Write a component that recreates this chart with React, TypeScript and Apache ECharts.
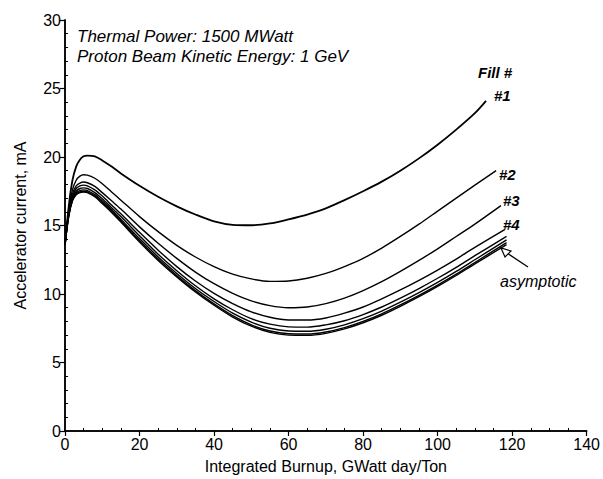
import React, { useEffect, useRef } from "react";
import * as echarts from "echarts";

// Burnup sample points (GWatt day/Ton) shared by all curves
const X_POINTS = [0, 1, 2, 3, 4, 5, 6, 8, 10, 12.5, 15, 20, 25, 30, 35, 40, 45, 50, 55, 60, 65, 70, 75, 80, 85, 90, 95, 100, 105, 110];

// Accelerator current (mA) for each fill at X_POINTS, plus each curve's end point [x, y]
const FILL1 = [13.6, 16.4, 18.3, 19.3, 19.8, 20.05, 20.1, 20.05, 19.75, 19.3, 18.8, 17.9, 17.1, 16.4, 15.8, 15.3, 15.05, 15.02, 15.15, 15.45, 15.8, 16.25, 16.85, 17.5, 18.2, 19.0, 19.9, 20.9, 22.0, 23.2];
const FILL1_END = [113, 24.1];
const FILL2 = [13.6, 16.1, 17.6, 18.3, 18.6, 18.7, 18.68, 18.45, 18.05, 17.45, 16.85, 15.65, 14.55, 13.55, 12.7, 12.0, 11.45, 11.1, 10.92, 10.95, 11.15, 11.5, 12.0, 12.6, 13.35, 14.2, 15.1, 16.05, 17.0, 17.95];
const FILL2_END = [115.7, 19.0];
const FILL3 = [13.6, 16.0, 17.3, 17.9, 18.1, 18.17, 18.12, 17.85, 17.4, 16.8, 16.2, 14.9, 13.7, 12.6, 11.6, 10.75, 10.05, 9.5, 9.15, 9.0, 9.05, 9.3, 9.7, 10.25, 10.9, 11.65, 12.45, 13.3, 14.2, 15.1];
const FILL3_END = [117, 16.45];
const FILL4 = [13.6, 15.9, 17.1, 17.7, 17.9, 17.95, 17.9, 17.6, 17.15, 16.5, 15.85, 14.5, 13.2, 12.0, 10.95, 10.05, 9.3, 8.7, 8.3, 8.1, 8.1, 8.25, 8.6, 9.05, 9.65, 10.3, 11.0, 11.75, 12.55, 13.4];
const FILL4_END = [118, 14.7];
const FILL5 = [13.6, 15.8, 17.0, 17.5, 17.7, 17.75, 17.7, 17.4, 16.95, 16.3, 15.65, 14.25, 12.9, 11.7, 10.6, 9.65, 8.85, 8.2, 7.8, 7.6, 7.58, 7.75, 8.05, 8.5, 9.05, 9.7, 10.4, 11.15, 11.95, 12.8];
const FILL5_END = [118.5, 14.2];
const FILL6 = [13.6, 15.75, 16.9, 17.4, 17.55, 17.6, 17.55, 17.25, 16.8, 16.15, 15.45, 14.05, 12.7, 11.5, 10.4, 9.45, 8.6, 7.95, 7.5, 7.3, 7.28, 7.43, 7.75, 8.2, 8.75, 9.4, 10.1, 10.85, 11.65, 12.5];
const FILL6_END = [118.5, 13.95];
const FILL7 = [13.6, 15.7, 16.85, 17.3, 17.45, 17.5, 17.45, 17.15, 16.7, 16.05, 15.35, 13.9, 12.55, 11.35, 10.25, 9.28, 8.42, 7.75, 7.3, 7.1, 7.08, 7.23, 7.55, 8.0, 8.55, 9.2, 9.9, 10.65, 11.45, 12.3];
const FILL7_END = [118.5, 13.75];
const ASYMPTOTIC = [13.6, 15.65, 16.8, 17.25, 17.4, 17.45, 17.4, 17.1, 16.6, 15.95, 15.25, 13.8, 12.45, 11.25, 10.15, 9.18, 8.32, 7.65, 7.2, 7.0, 6.98, 7.13, 7.45, 7.9, 8.45, 9.1, 9.8, 10.55, 11.35, 12.2];
const ASYMPTOTIC_END = [118.5, 13.6];

const SERIES_NAMES = ["#1", "#2", "#3", "#4", "#5", "#6", "#7", "asymptotic"];
const SERIES_VALUES = [FILL1, FILL2, FILL3, FILL4, FILL5, FILL6, FILL7, ASYMPTOTIC];
const SERIES_ENDS = [FILL1_END, FILL2_END, FILL3_END, FILL4_END, FILL5_END, FILL6_END, FILL7_END, ASYMPTOTIC_END];

const X_MIN = 0, X_MAX = 140, X_INTERVAL = 20;
const Y_MIN = 0, Y_MAX = 30, Y_INTERVAL = 5;

const TITLE_LINES = ["Thermal Power: 1500 MWatt", "Proton Beam Kinetic Energy: 1 GeV"];
const LEGEND_TITLE = "Fill #";
const X_NAME = "Integrated Burnup, GWatt day/Ton";
const Y_NAME = "Accelerator current, mA";

const FONT = "'Liberation Sans', Arial, Helvetica, sans-serif";

export default function App() {
  const ref = useRef<HTMLDivElement>(null);

  useEffect(() => {
    document.body.style.margin = "0";
    const el = ref.current;
    if (!el) return;
    const chart = echarts.init(el, undefined, { renderer: "svg" });
    const black = "#000";
    const axisLine = { show: true, lineStyle: { color: black, width: 1.5 } };

    const series = SERIES_VALUES.map((vals, i) => ({
      type: "line",
      name: SERIES_NAMES[i],
      xAxisIndex: 0,
      yAxisIndex: 0,
      data: X_POINTS.map((x, j) => [x, vals[j]]).concat([SERIES_ENDS[i]]),
      smooth: 0.3,
      showSymbol: false,
      symbol: "none",
      lineStyle: { color: black, width: i === 0 ? 1.8 : 1.4 },
      z: 3,
    }));

    const italic = (text: string, x: number, y: number, bold = false, size = 16) => ({
      type: "text",
      x,
      y,
      style: {
        text,
        fill: black,
        font: `italic ${bold ? "bold " : ""}${size}px ${FONT}`,
        textVerticalAlign: "middle",
        verticalAlign: "middle",
      },
      z: 10,
    });

    chart.setOption({
      animation: false,
      backgroundColor: "#fff",
      grid: { left: 65, right: 16, top: 20, bottom: 46, containLabel: false },
      xAxis: [
        {
          type: "value",
          min: X_MIN,
          max: X_MAX,
          interval: X_INTERVAL,
          position: "bottom",
          axisLine,
          axisTick: { show: true, length: 5, lineStyle: { color: black, width: 1.2 } },
          axisLabel: { color: black, fontSize: 16, fontFamily: FONT, margin: 5 },
          splitLine: { show: false },
          name: X_NAME,
          nameLocation: "middle",
          nameGap: 27,
          nameTextStyle: { color: black, fontSize: 16, fontFamily: FONT },
        },
        {
          type: "value",
          min: X_MIN,
          max: X_MAX,
          interval: X_INTERVAL,
          position: "bottom",
          axisLine: { show: false },
          axisTick: { show: false, inside: true },
          minorTick: { show: true, splitNumber: 4, length: 3, lineStyle: { color: black, width: 1 } },
          axisLabel: { show: false },
          splitLine: { show: false },
        },
        {
          type: "value",
          min: X_MIN,
          max: X_MAX,
          position: "top",
          axisLine,
          axisTick: { show: false },
          axisLabel: { show: false },
          splitLine: { show: false },
        },
      ],
      yAxis: [
        {
          type: "value",
          min: Y_MIN,
          max: Y_MAX,
          interval: Y_INTERVAL,
          position: "left",
          axisLine,
          axisTick: { show: true, length: 5, lineStyle: { color: black, width: 1.2 } },
          axisLabel: { color: black, fontSize: 16, fontFamily: FONT, margin: 4 },
          splitLine: { show: false },
          name: Y_NAME,
          nameLocation: "middle",
          nameGap: 37,
          nameRotate: 90,
          nameTextStyle: { color: black, fontSize: 16, fontFamily: FONT },
        },
        {
          type: "value",
          min: Y_MIN,
          max: Y_MAX,
          interval: Y_INTERVAL,
          position: "left",
          axisLine: { show: false },
          axisTick: { show: false, inside: true },
          minorTick: { show: true, splitNumber: 5, length: 3, lineStyle: { color: black, width: 1 } },
          axisLabel: { show: false },
          splitLine: { show: false },
        },
        {
          type: "value",
          min: Y_MIN,
          max: Y_MAX,
          position: "right",
          axisLine,
          axisTick: { show: false },
          axisLabel: { show: false },
          splitLine: { show: false },
        },
      ],
      series,
      graphic: [
        italic(TITLE_LINES[0], 77, 36, false, 17),
        italic(TITLE_LINES[1], 77, 56, false, 17),
        italic(LEGEND_TITLE, 478, 72, true, 15),
        italic(SERIES_NAMES[0], 494, 95, true, 15),
        italic(SERIES_NAMES[1], 499, 174, true, 15),
        italic(SERIES_NAMES[2], 503, 200, true, 15),
        italic(SERIES_NAMES[3], 503, 224, true, 15),
        italic(SERIES_NAMES[7], 500, 281, false, 16),
        {
          type: "line",
          shape: { x1: 528, y1: 267, x2: 504, y2: 251 },
          style: { stroke: black, lineWidth: 1.3 },
          z: 10,
        },
        {
          type: "polygon",
          shape: { points: [[501, 248], [505, 257], [511, 251]] },
          style: { stroke: black, fill: "#fff", lineWidth: 1.2 },
          z: 11,
        },
      ],
    });

    return () => chart.dispose();
  }, []);

  return <div ref={ref} style={{ width: 603, height: 479 }} />;
}
